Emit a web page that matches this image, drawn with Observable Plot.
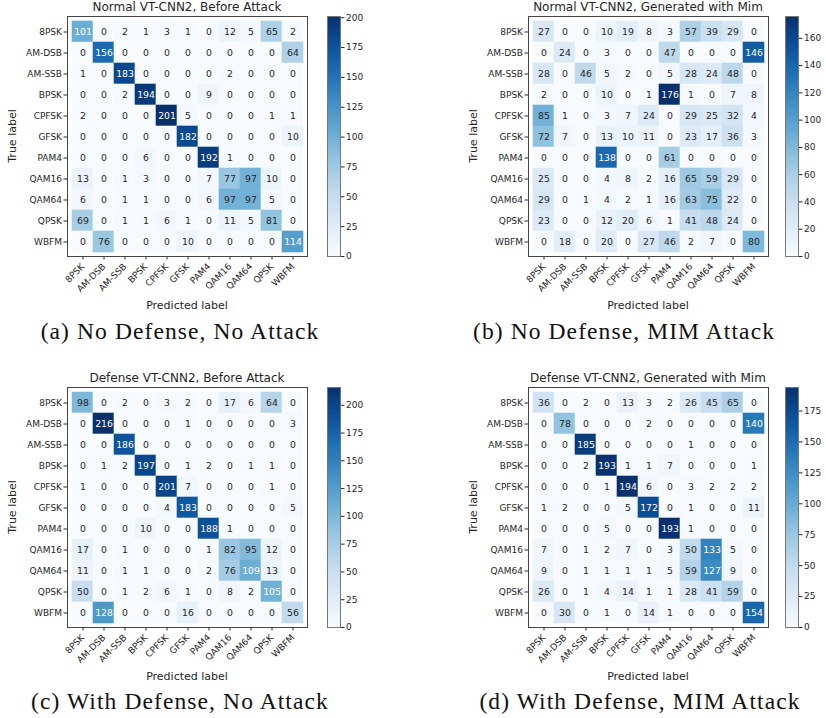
<!DOCTYPE html>
<html><head><meta charset="utf-8">
<script src="https://cdn.jsdelivr.net/npm/d3@7"></script>
<script src="https://cdn.jsdelivr.net/npm/@observablehq/plot@0.6"></script>
<style>
body{margin:0;background:#fff;}
#root{position:relative;width:826px;height:718px;overflow:hidden;font-family:"DejaVu Sans",sans-serif;color:#262626;background:#fff;}
.abs{position:absolute;}
.title{font-size:12px;white-space:nowrap;transform:translate(-50%,-50%);}
.xlabel{font-size:11px;white-space:nowrap;transform:translate(-50%,-50%);}
.ylabel{font-size:11px;white-space:nowrap;transform:translate(-50%,-50%) rotate(-90deg);}
.caption{font-family:"Liberation Serif",serif;font-size:23.5px;letter-spacing:1.1px;white-space:nowrap;transform:translate(-50%,-50%);color:#111;}
</style>
</head><body><div id="root"></div>
<script>
const labels = ["8PSK","AM-DSB","AM-SSB","BPSK","CPFSK","GFSK","PAM4","QAM16","QAM64","QPSK","WBFM"];

const normalBefore = [
  [101,0,2,1,3,1,0,12,5,65,2],
  [0,156,0,0,0,0,0,0,0,0,64],
  [1,0,183,0,0,0,0,2,0,0,0],
  [0,0,2,194,0,0,9,0,0,0,0],
  [2,0,0,0,201,5,0,0,0,1,1],
  [0,0,0,0,0,182,0,0,0,0,10],
  [0,0,0,6,0,0,192,1,0,0,0],
  [13,0,1,3,0,0,7,77,97,10,0],
  [6,0,1,1,0,0,6,97,97,5,0],
  [69,0,1,1,6,1,0,11,5,81,0],
  [0,76,0,0,0,10,0,0,0,0,114]
];
const normalMim = [
  [27,0,0,10,19,8,3,57,39,29,0],
  [0,24,0,3,0,0,47,0,0,0,146],
  [28,0,46,5,2,0,5,28,24,48,0],
  [2,0,0,10,0,1,176,1,0,7,8],
  [85,1,0,3,7,24,0,29,25,32,4],
  [72,7,0,13,10,11,0,23,17,36,3],
  [0,0,0,138,0,0,61,0,0,0,0],
  [25,0,0,4,8,2,16,65,59,29,0],
  [29,0,1,4,2,1,16,63,75,22,0],
  [23,0,0,12,20,6,1,41,48,24,0],
  [0,18,0,20,0,27,46,2,7,0,80]
];
const defenseBefore = [
  [98,0,2,0,3,2,0,17,6,64,0],
  [0,216,0,0,0,1,0,0,0,0,3],
  [0,0,186,0,0,0,0,0,0,0,0],
  [0,1,2,197,0,1,2,0,1,1,0],
  [1,0,0,0,201,7,0,0,0,1,0],
  [0,0,0,0,4,183,0,0,0,0,5],
  [0,0,0,10,0,0,188,1,0,0,0],
  [17,0,1,0,0,0,1,82,95,12,0],
  [11,0,1,1,0,0,2,76,109,13,0],
  [50,0,1,2,6,1,0,8,2,105,0],
  [0,128,0,0,0,16,0,0,0,0,56]
];
const defenseMim = [
  [36,0,2,0,13,3,2,26,45,65,0],
  [0,78,0,0,0,2,0,0,0,0,140],
  [0,0,185,0,0,0,0,1,0,0,0],
  [0,0,2,193,1,1,7,0,0,0,1],
  [0,0,0,1,194,6,0,3,2,2,2],
  [1,2,0,0,5,172,0,1,0,0,11],
  [0,0,0,5,0,0,193,1,0,0,0],
  [7,0,1,2,7,0,3,50,133,5,0],
  [9,0,1,1,1,1,5,59,127,9,0],
  [26,0,1,4,14,1,1,28,41,59,0],
  [0,30,0,1,0,14,1,0,0,0,154]
];

const titles = ["Normal VT-CNN2, Before Attack","Normal VT-CNN2, Generated with Mim","Defense VT-CNN2, Before Attack","Defense VT-CNN2, Generated with Mim"];
const captions = ["(a) No Defense, No Attack","(b) No Defense, MIM Attack","(c) With Defense, No Attack","(d) With Defense, MIM Attack"];
const colorbarTicks = [
  [0,25,50,75,100,125,150,175,200],
  [0,20,40,60,80,100,120,140,160],
  [0,25,50,75,100,125,150,175,200],
  [0,25,50,75,100,125,150,175]
];
const textThresholds = [100.5, 88, 100, 97];

const panels = [
  {m: normalBefore, L: 67, T: 16, cb: 327, capX: 180, capY: 331},
  {m: normalMim, L: 528, T: 16, cb: 785, capX: 624, capY: 331},
  {m: defenseBefore, L: 67, T: 387, cb: 327, capX: 180, capY: 701},
  {m: defenseMim, L: 528, T: 387, cb: 785, capX: 640, capY: 701}
];

const S = 240;
const root = document.getElementById("root");
function place(el, x, y, cls) {
  el.classList.add("abs"); if (cls) el.classList.add(cls);
  el.style.left = x + "px"; el.style.top = y + "px";
  root.appendChild(el); return el;
}
function div(text, x, y, cls) {
  const d = document.createElement("div"); d.textContent = text; return place(d, x, y, cls);
}

panels.forEach((p, k) => {
  const data = [];
  p.m.forEach((row, i) => row.forEach((v, j) => data.push({t: labels[i], p: labels[j], v})));
  const max = d3.max(data, d => d.v);
  const th = textThresholds[k];
  const color = {type: "linear", scheme: "blues", domain: [0, max]};
  const mp = Plot.plot({
    width: 60 + S + 4, height: 2 + S + 50,
    marginLeft: 60, marginRight: 4, marginTop: 2, marginBottom: 50,
    style: {fontFamily: "DejaVu Sans", fontSize: "9px", background: "transparent", color: "#262626"},
    x: {domain: labels, padding: 0, tickRotate: -45, tickSize: 3.5, tickPadding: 5, label: null},
    y: {domain: labels, padding: 0, tickSize: 3.5, tickPadding: 2, label: null},
    color,
    marks: [
      Plot.cell(data, {x: "p", y: "t", fill: "v", stroke: "v", strokeWidth: 0.6}),
      Plot.text(data.filter(d => d.v > th), {x: "p", y: "t", text: d => String(d.v), fill: "white", fontSize: 9.3}),
      Plot.text(data.filter(d => d.v <= th), {x: "p", y: "t", text: d => String(d.v), fill: "#262626", fontSize: 9.3}),
      Plot.frame({stroke: "#444", strokeWidth: 1})
    ]
  });
  place(mp, p.L - 60, p.T - 2);

  const stops = d3.range(0, Math.ceil(max));
  const cbp = Plot.plot({
    width: 13 + 32, height: S + 12,
    marginLeft: 0, marginRight: 32, marginTop: 6, marginBottom: 6,
    style: {fontFamily: "DejaVu Sans", fontSize: "9px", background: "transparent", color: "#262626"},
    x: {axis: null, domain: [0, 1]},
    y: {domain: [0, max], ticks: colorbarTicks[k], tickSize: 3.5, tickPadding: 2, label: null, axis: "right"},
    color,
    marks: [
      Plot.rect(stops, {x1: 0, x2: 1, y1: d => d, y2: d => Math.min(d + 1, max), fill: d => d, shapeRendering: "crispEdges"}),
      Plot.frame({stroke: "#777", strokeWidth: 1})
    ]
  });
  place(cbp, p.cb, p.T - 6);

  div(titles[k], p.L + S / 2, p.T - 9, "title");
  div("Predicted label", p.L + S / 2, p.T + 289, "xlabel");
  div("True label", p.L - 55, p.T + S / 2, "ylabel");
  div(captions[k], p.capX, p.capY, "caption");
});
</script>
</body></html>
